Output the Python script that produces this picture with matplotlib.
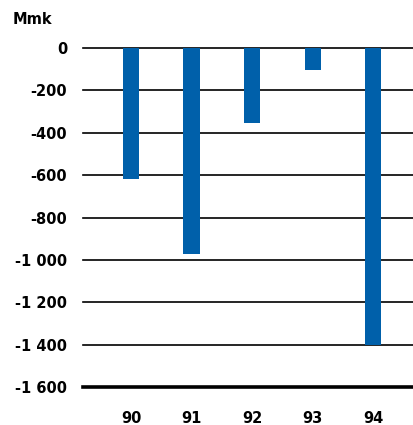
import matplotlib.pyplot as plt

plt.rcParams['font.family'] = ['DejaVu Sans']

# data
years = ['90', '91', '92', '93', '94']
values = [-620, -970, -355, -105, -1400]
yticks = [0, -200, -400, -600, -800, -1000, -1200, -1400, -1600]
ytick_labels = ['0', '-200', '-400', '-600', '-800', '-1 000', '-1 200', '-1 400', '-1 600']

fig = plt.figure(figsize=(4.13, 4.25), dpi=100)
ax = fig.add_axes([83 / 413, 1 - 387 / 425, 330 / 413, 339 / 425])

x = list(range(len(years)))
ax.bar(x, values, width=0.265, color='#0060aa', zorder=3)

for t in yticks:
    lw = 2.6 if t == -1600 else 1.2
    ax.axhline(t, color='black', lw=lw, zorder=2, clip_on=False)

ax.set_ylim(-1600, 0)
ax.set_xlim(-0.793, 4.66)

ax.set_yticks(yticks)
ax.set_yticklabels(ytick_labels, fontsize=10.5, fontweight='bold')
ax.set_xticks(x)
ax.set_xticklabels(years, fontsize=10.5, fontweight='bold')
ax.tick_params(axis='y', length=0, pad=11.5)
ax.tick_params(axis='x', length=0, pad=17)

for s in ax.spines.values():
    s.set_visible(False)

fig.text(13 / 413, 1 - 20 / 425, 'Mmk', fontsize=10.5, fontweight='bold', va='center', ha='left')

fig.savefig('out.png', dpi=100)
